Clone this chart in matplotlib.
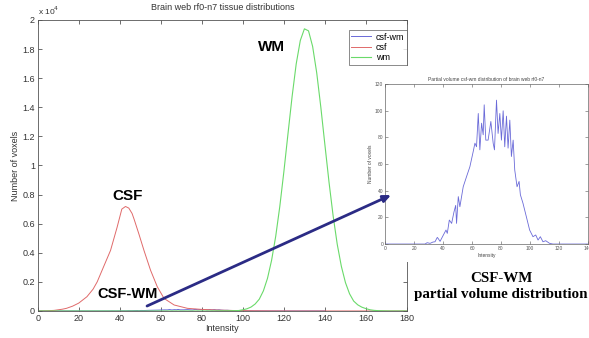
import matplotlib.pyplot as plt
from matplotlib.patches import Rectangle, ConnectionPatch

# csf histogram (main plot)
csf_x = [0, 4, 8, 12, 14, 17, 20, 24, 27, 29, 32, 35.5, 38.7, 41, 42.8, 44.4, 46, 47,
         49.3, 51.8, 55, 58.3, 61.6, 66.5, 73, 79.6, 88, 96, 104, 115, 125, 180]
csf_y = [0, 10, 40, 120, 180, 330, 540, 980, 1500, 2000, 3000, 4160, 5750, 7000, 7180,
         7070, 6700, 6300, 5300, 4160, 2800, 1660, 860, 410, 180, 110, 60, 30, 15, 5, 0, 0]

# wm histogram (main plot)
wm_x = [0, 80, 90, 92, 94, 96, 98, 100, 102, 104, 106, 108, 110, 112, 114, 116, 118, 120,
        122, 124, 126, 128, 130, 132, 134, 136, 138, 140, 142, 144, 146, 148, 150, 152,
        154, 156, 158, 160, 162, 164, 166, 168, 170, 172, 180]
wm_y = [0, 0, 10, 10, 15, 20, 30, 80, 150, 270, 480, 810, 1380, 2240, 3480, 5120, 7180,
        9590, 12190, 14740, 16980, 18590, 19390, 19250, 18180, 16360, 14000, 11400, 8840,
        6530, 4580, 3070, 1950, 1180, 680, 420, 260, 160, 80, 40, 20, 10, 5, 0, 0]

# partial volume csf-wm histogram (inset)
pv_x = [0, 27.5, 29, 31, 33, 34.4, 36, 36.7, 37.9, 40.2, 42, 42.9, 44.3, 45.9, 47.5, 48.7,
        49.3, 50.5, 51.6, 53.9, 56.2, 58.5, 60.8, 62, 63.1, 64.3, 65.4, 66.6, 67.7, 68.4,
        69.5, 71.1, 73, 74.6, 75.5, 76.9, 78, 79.2, 80.3, 81.5, 82.6, 83.8, 84.9, 86.1,
        87.2, 88.4, 89.5, 91.1, 92.5, 93.4, 95.2, 97.5, 99.8, 102.1, 104, 105.6, 107.2,
        109, 110.9, 113.6, 115.9, 140]
pv_y = [0, 0, 1, 0.5, 1.5, 1.7, 5, 4, 2, 6.8, 10.5, 8, 18, 15.5, 24, 29, 15.5, 35.6, 28,
        43, 50.6, 58, 69.4, 75.7, 73, 98, 70.7, 90.7, 82, 104.5, 78, 78, 92, 75.7, 70.7,
        108, 83, 98, 78, 100, 73, 96, 72, 93, 65.7, 78, 55.6, 43, 47, 37, 30.6, 20.6,
        10.5, 5.5, 6.8, 3, 5.5, 1.7, 2.5, 0.5, 0, 0]

x_ticks = list(range(0, 181, 20))
y_ticks = list(range(0, 20001, 2000))
y_tick_labels = ['0', '0.2', '0.4', '0.6', '0.8', '1', '1.2', '1.4', '1.6', '1.8', '2']
pv_x_ticks = list(range(0, 141, 20))
pv_y_ticks = list(range(0, 121, 20))

blue = '#6a6ad8'
red = '#e06a6a'
green = '#6ada6a'

plt.rcParams['font.family'] = ['Liberation Sans', 'DejaVu Sans']

fig = plt.figure(figsize=(5.89, 3.38), dpi=100)
ax = fig.add_axes([0.064, 0.080, 0.627, 0.861])

ax.plot(pv_x, pv_y, color=blue, lw=0.7, label='csf-wm')
ax.plot(csf_x, csf_y, color=red, lw=0.7, label='csf')
ax.plot(wm_x, wm_y, color=green, lw=0.8, label='wm')

ax.set_xlim(0, 180)
ax.set_ylim(0, 20000)
ax.set_xticks(x_ticks)
ax.set_yticks(y_ticks)
ax.set_yticklabels(y_tick_labels)
ax.tick_params(direction='in', top=True, right=True, length=3, width=0.5,
               labelsize=6.5, colors='#333333', pad=2)
for s in ax.spines.values():
    s.set_linewidth(0.6)
    s.set_color('#555555')
ax.set_xlabel('Intensity', fontsize=6.5, labelpad=1, color='#333333')
ax.set_ylabel('Number of voxels', fontsize=6.5, labelpad=2, color='#333333')
ax.set_title('Brain web rf0-n7 tissue distributions', fontsize=6.5, pad=7, color='#333333')
ax.text(0.0, 1.01, r'x 10$^4$', transform=ax.transAxes, fontsize=6, color='#333333',
        ha='left', va='bottom')

leg = ax.legend(loc='upper right', bbox_to_anchor=(1.0, 0.966), fontsize=6.5,
                frameon=True, fancybox=False, handlelength=2.2, borderpad=0.3,
                labelspacing=0.15, handletextpad=0.5, borderaxespad=0.0)
leg.get_frame().set_edgecolor('#555555')
leg.get_frame().set_linewidth(0.6)

ax.text(113.8, 18140, 'WM', fontsize=11, fontweight='bold', ha='center', va='center')
ax.text(43.6, 7900, 'CSF', fontsize=11, fontweight='bold', ha='center', va='center')
ax.text(43.6, 1170, 'CSF-WM', fontsize=10.5, fontweight='bold', ha='center', va='center')

# white area behind the inset
fig.add_artist(Rectangle((0.62, 0.225), 0.38, 0.58, transform=fig.transFigure,
                         facecolor='white', edgecolor='none', zorder=1))

axin = fig.add_axes([0.654, 0.278, 0.344, 0.473])
axin.set_zorder(2)
axin.plot(pv_x, pv_y, color=blue, lw=0.6)
axin.set_xlim(0, 140)
axin.set_ylim(0, 120)
axin.set_xticks(pv_x_ticks)
axin.set_yticks(pv_y_ticks)
axin.tick_params(direction='in', top=True, right=True, length=2, width=0.4,
                 labelsize=3.5, colors='#555555', pad=1.5)
for s in axin.spines.values():
    s.set_linewidth(0.5)
    s.set_color('#666666')
axin.set_xlabel('Intensity', fontsize=3.5, labelpad=1, color='#444444')
axin.set_ylabel('Number of voxels', fontsize=3.5, labelpad=1, color='#444444')
axin.set_title('Partial volume csf-wm distribution of brain web rf0-n7', fontsize=3.5,
               pad=2, color='#444444')

arrow = ConnectionPatch(xyA=(53.3, 340), coordsA=ax.transData,
                        xyB=(4.1, 36.8), coordsB=axin.transData,
                        arrowstyle='-|>,head_length=0.45,head_width=0.2',
                        color='#2b2b85', lw=2.0)
arrow.set_zorder(5)
fig.add_artist(arrow)

fig.text(0.851, 0.153, 'CSF-WM\npartial volume distribution', fontsize=10.8,
         fontweight='bold', family=['Liberation Serif', 'DejaVu Serif'],
         ha='center', va='center', linespacing=1.35)

fig.savefig('out.png', dpi=100)
